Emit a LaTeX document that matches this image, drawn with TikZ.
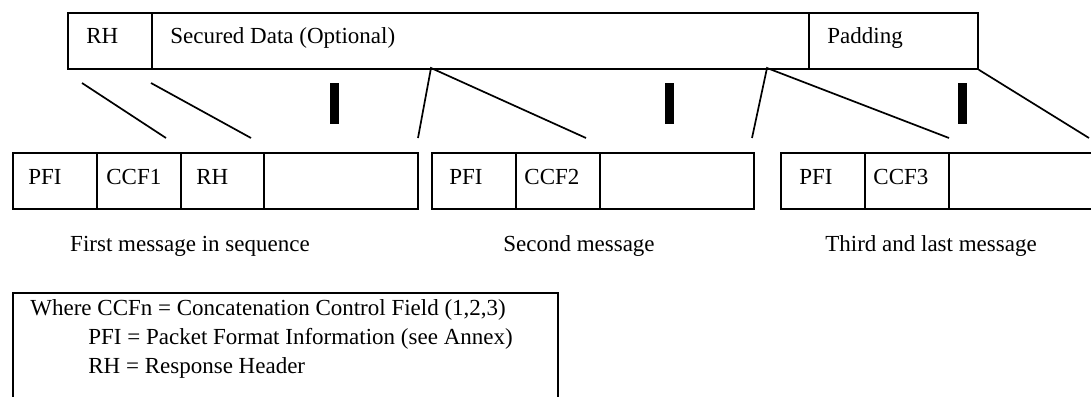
\documentclass[tikz,border=0pt]{standalone}
\usepackage{fontspec}
\setmainfont{Liberation Serif}
\begin{document}
\begin{tikzpicture}[x=0.5pt,y=-0.5pt,
  cell/.style={draw, line width=0.85pt, inner sep=0pt, anchor=north west},
  lbl/.style={anchor=base west, inner sep=0pt, font=\fontsize{11.5pt}{13pt}\selectfont},
  captext/.style={anchor=base, inner sep=0pt, font=\fontsize{11.5pt}{13pt}\selectfont},
  link/.style={line width=0.85pt},
  marker/.style={fill=black, inner sep=0pt, anchor=north west, minimum width=4.3pt, minimum height=20.5pt}]
\useasboundingbox (0,0) rectangle (1091,396);
\clip (0,0) rectangle (1091,396);
% cell helper: name, x1, x2, y1, y2 (in pixel units)
\newcommand\cellbox[5]{\node[cell, minimum width={(#3-#2)*0.5pt}, minimum height={(#5-#4)*0.5pt}] (#1) at (#2,#4) {};}

% top frame
\cellbox{trh}{67}{151}{12}{68}
\cellbox{tsd}{151}{808}{12}{68}
\cellbox{tpad}{808}{977}{12}{68}
\node[lbl] (ltrh) at (86,43) {RH};
\node[lbl] (ltsd) at (170,43) {Secured Data (Optional)};
\node[lbl] (ltpad) at (827,43) {Padding};

% first message
\cellbox{ma}{12}{96}{152}{208}
\cellbox{mb}{96}{180}{152}{208}
\cellbox{mc}{180}{263}{152}{208}
\cellbox{md}{263}{417}{152}{208}
\node[lbl] (lma) at (28,184) {PFI};
\node[lbl] (lmb) at (106,184) {CCF1};
\node[lbl] (lmc) at (196,184) {RH};

% second message
\cellbox{na}{431}{515}{152}{208}
\cellbox{nb}{515}{599}{152}{208}
\cellbox{nc}{599}{753}{152}{208}
\node[lbl] (lna) at (449,184) {PFI};
\node[lbl] (lnb) at (524,184) {CCF2};

% third message
\cellbox{pa}{780}{864}{152}{208}
\cellbox{pb}{864}{948}{152}{208}
\cellbox{pc}{948}{1130}{152}{208}
\node[lbl] (lpa) at (799,184) {PFI};
\node[lbl] (lpb) at (873,184) {CCF3};

% captions
\node[captext] (c1) at (190,251) {First message in sequence};
\node[captext] (c2) at (579,251) {Second message};
\node[captext] (c3) at (931,251) {Third and last message};

% markers between frames
\node[marker] (bar1) at (330,83) {};
\node[marker] (bar2) at (665,83) {};
\node[marker] (bar3) at (958,83) {};

% mapping lines
\coordinate (a1) at (82,83);   \coordinate (a2) at (166,138);
\coordinate (b1) at (151,83);  \coordinate (b2) at (251,138);
\coordinate (s1) at (431,68);  \coordinate (s1l) at (418,138); \coordinate (s1r) at (586,138);
\coordinate (s2) at (767,68);  \coordinate (s2l) at (752,138); \coordinate (s2r) at (949,138);
\coordinate (e1) at (1089,138);
\draw[link] (a1) -- (a2);
\draw[link] (b1) -- (b2);
\draw[link] (s1l) -- (s1) -- (s1r);
\draw[link] (s2l) -- (s2) -- (s2r);
\draw[link] (tpad.south east) -- (e1);

% legend
\cellbox{leg}{12}{557}{292}{420}
\node[lbl] (g1) at (30,315) {Where CCFn = Concatenation Control Field (1,2,3)};
\node[lbl] (g2) at (88,344) {PFI = Packet Format Information (see Annex)};
\node[lbl] (g3) at (88,373) {RH = Response Header};
\end{tikzpicture}
\end{document}
